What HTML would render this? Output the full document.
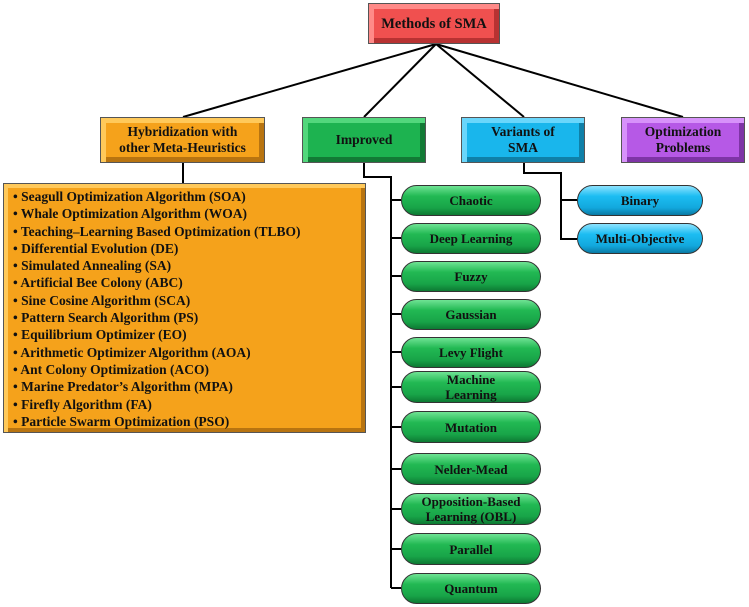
<!DOCTYPE html>
<html><head><meta charset="utf-8"><style>
body{margin:0;width:749px;height:607px;background:#fff;position:relative;overflow:hidden;font-family:"Liberation Serif",serif;font-weight:bold;color:#111}
.b{position:absolute;box-sizing:border-box;display:flex;align-items:center;justify-content:center;text-align:center;font-size:13.5px;line-height:16px;border:1px solid #555}
.red{background:#f0504f;box-shadow:inset 5px 5px 0 #ff8a88,inset -5px -5px 0 #b83232}
.org{background:#f5a21b;box-shadow:inset 5px 5px 0 #ffc95a,inset -5px -5px 0 #b87410}
.grn{background:#1db350;box-shadow:inset 5px 5px 0 #52d77c,inset -5px -5px 0 #127a35}
.blu{background:#19b6ec;box-shadow:inset 5px 5px 0 #6ad6fb,inset -5px -5px 0 #0f80a8}
.pur{background:#b659e6;box-shadow:inset 5px 5px 0 #d792fa,inset -5px -5px 0 #7e34a6}
.p{position:absolute;box-sizing:border-box;display:flex;align-items:center;justify-content:center;text-align:center;font-size:13px;line-height:15px;border:1px solid #333;border-radius:16px}
.pg{background:linear-gradient(#6fe394 0%,#22b953 35%,#18a448 75%,#0d7a33 100%)}
.pb{background:linear-gradient(#8ee3ff 0%,#1cbdf2 35%,#12a8dd 75%,#0a7aa5 100%)}
.list{position:absolute;left:3px;top:183px;width:363px;height:250px;box-sizing:border-box;border:1px solid #555;background:#f5a21b;box-shadow:inset 4px 4px 0 #ffc95a,inset -4px -4px 0 #b87410;padding:4px 0 0 9px;font-size:13.5px;line-height:17.3px;white-space:nowrap}
</style></head><body>
<svg width="749" height="607" style="position:absolute;left:0;top:0" fill="none" stroke="#000" stroke-width="2">
<line x1="436" y1="44" x2="183" y2="117"/><line x1="436" y1="44" x2="364" y2="117"/><line x1="436" y1="44" x2="524" y2="117"/><line x1="436" y1="44" x2="683" y2="117"/>
<line x1="183" y1="163" x2="183" y2="183"/>
<polyline points="364,163 364,177 391,177 391,588"/>
<line x1="391" y1="200" x2="401" y2="200"/><line x1="391" y1="238" x2="401" y2="238"/><line x1="391" y1="276" x2="401" y2="276"/><line x1="391" y1="314" x2="401" y2="314"/><line x1="391" y1="352" x2="401" y2="352"/><line x1="391" y1="387" x2="401" y2="387"/><line x1="391" y1="427" x2="401" y2="427"/><line x1="391" y1="469" x2="401" y2="469"/><line x1="391" y1="509" x2="401" y2="509"/><line x1="391" y1="549" x2="401" y2="549"/><line x1="391" y1="588" x2="401" y2="588"/>
<polyline points="524,163 524,173 561,173 561,239 577,239"/><line x1="561" y1="200" x2="577" y2="200"/>
</svg>
<div class="b red" style="left:368px;top:3px;width:132px;height:41px;font-size:14.5px">Methods of SMA</div>
<div class="b org" style="left:100px;top:117px;width:165px;height:46px">Hybridization with<br>other Meta-Heuristics</div>
<div class="b grn" style="left:302px;top:117px;width:124px;height:46px">Improved</div>
<div class="b blu" style="left:461px;top:117px;width:124px;height:46px">Variants of<br>SMA</div>
<div class="b pur" style="left:621px;top:117px;width:124px;height:46px">Optimization<br>Problems</div>
<div class="list">• Seagull Optimization Algorithm (SOA)<br>• Whale Optimization Algorithm (WOA)<br>• Teaching–Learning Based Optimization (TLBO)<br>• Differential Evolution (DE)<br>• Simulated Annealing (SA)<br>• Artificial Bee Colony (ABC)<br>• Sine Cosine Algorithm (SCA)<br>• Pattern Search Algorithm (PS)<br>• Equilibrium Optimizer (EO)<br>• Arithmetic Optimizer Algorithm (AOA)<br>• Ant Colony Optimization (ACO)<br>• Marine Predator’s Algorithm (MPA)<br>• Firefly Algorithm (FA)<br>• Particle Swarm Optimization (PSO)</div>
<div class="p pg" style="left:401px;top:185px;width:140px;height:31px">Chaotic</div>
<div class="p pg" style="left:401px;top:223px;width:140px;height:31px">Deep Learning</div>
<div class="p pg" style="left:401px;top:261px;width:140px;height:31px">Fuzzy</div>
<div class="p pg" style="left:401px;top:299px;width:140px;height:31px">Gaussian</div>
<div class="p pg" style="left:401px;top:337px;width:140px;height:31px">Levy Flight</div>
<div class="p pg" style="left:401px;top:371px;width:140px;height:32px">Machine<br>Learning</div>
<div class="p pg" style="left:401px;top:411px;width:140px;height:32px">Mutation</div>
<div class="p pg" style="left:401px;top:453px;width:140px;height:32px">Nelder-Mead</div>
<div class="p pg" style="left:401px;top:493px;width:140px;height:32px">Opposition-Based<br>Learning (OBL)</div>
<div class="p pg" style="left:401px;top:533px;width:140px;height:32px">Parallel</div>
<div class="p pg" style="left:401px;top:573px;width:140px;height:31px">Quantum</div>
<div class="p pb" style="left:577px;top:185px;width:126px;height:31px">Binary</div>
<div class="p pb" style="left:577px;top:223px;width:126px;height:31px">Multi-Objective</div>
</body></html>
